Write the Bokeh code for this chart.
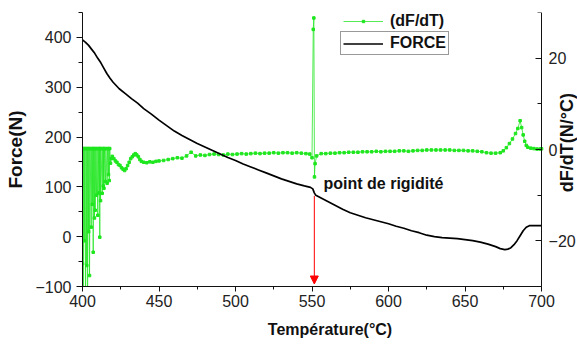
import math
from bokeh.plotting import figure
from bokeh.models import (Range1d, LinearAxis, SingleIntervalTicker, Legend, LegendItem,
                          Label, Arrow, NormalHead)
from bokeh.embed import file_html
from bokeh.resources import INLINE

# ---------------- data ----------------
temp_force = [400, 402, 404, 406, 408, 410, 412, 414, 416, 418, 420, 424, 428, 432, 436, 440,
              445, 450, 455, 460, 465, 470, 475, 480, 485, 490, 495, 500, 505, 510, 515, 520,
              525, 530, 535, 540, 545, 549, 550.5, 551.5, 552.5, 555, 560, 565, 570, 575, 580,
              585, 590, 595, 600, 605, 610, 615, 620, 625, 630, 635, 640, 645, 650, 655, 660,
              665, 670, 673, 676, 678, 680, 682, 684, 686, 688, 690, 692, 695, 700]
force = [395, 390, 384, 376, 368, 358, 349, 338, 327, 318, 310, 297, 287, 277, 268, 257,
         246, 234, 223, 212, 203, 195, 187, 180, 173, 166, 159, 153, 146, 140, 134, 128,
         122, 116, 111, 106, 102, 99, 96, 88, 83, 79, 71, 63, 55, 48, 43,
         38, 34, 30, 26, 21, 17, 12, 8, 3, 0, -2, -3, -4, -6, -8, -11,
         -15, -20, -24, -26, -25, -22, -16, -8, 2, 12, 19, 22, 22, 22]

temp_deriv = [400.0, 400.2, 400.5, 400.8, 401.2, 401.5, 402.0, 402.3, 402.8, 403.0,
              403.3, 403.6, 404.0, 404.3, 404.6, 405.0, 405.7, 406.0, 406.4, 406.7,
              407.0, 407.3, 407.8, 408.0, 408.3, 408.7, 409.2, 409.5, 410.0, 410.3,
              410.8, 411.0, 411.3, 411.5, 411.8, 412.1, 412.9, 413.2, 413.6, 413.8,
              414.0, 414.4, 415.0, 415.3, 416.1, 416.4, 417.0, 417.2, 417.5, 417.8,
              418.3,
              418.8, 419.5, 420.5, 421.5, 422.5, 423.5, 424.5, 425.5, 426.5, 427.5,
              428.5, 429.5, 430.5, 431.5, 432.5, 433.5, 434.5, 435.5, 436.5, 437.5,
              438.5, 440.0, 442.0, 444.0, 446.0, 448.0, 450.0,
              453, 456, 459, 462, 465, 468, 471, 474, 477, 480,
              483, 486, 489, 492, 495, 498, 501, 504, 507, 510,
              513, 516, 519, 522, 525, 528, 531, 534, 537, 540,
              543, 546,
              548.5, 550.0, 550.8, 551.2, 551.6, 552.0, 553.0,
              556, 559, 562, 565, 568, 571, 574, 577, 580, 583,
              586, 589, 592, 595, 598, 601, 604, 607, 610, 613,
              616, 619, 622, 625, 628, 631, 634, 637, 640, 643,
              646, 649, 652, 655, 658, 661, 664, 667, 670, 673,
              675, 677, 679, 681, 683, 684.5, 686, 687, 688, 689,
              690, 691, 693, 695, 697, 699, 700]
deriv = [-25.0, 0.2, -45.0, 0.2, -20.0, 0.2, -35.0, 0.2, -25.4, 0.2,
         -45.0, 0.2, -18.0, 0.2, -27.6, 0.2, -17.0, 0.2, -12.0, 0.2,
         -22.5, 0.2, -15.0, 0.2, -13.3, 0.2, -10.0, 0.2, -14.4, 0.2,
         -9.5, 0.2, -19.2, 0.2, -11.2, 0.2, -9.6, 0.2, -8.0, 0.2,
         -8.5, 0.2, -7.0, 0.2, -7.4, 0.2, -5.5, 0.2, -6.8, 0.2,
         -3.0,
         -2.0, -1.5, -2.0, -2.5, -2.8, -3.3, -3.5, -4.0, -4.3, -4.6,
         -4.2, -3.5, -2.8, -2.0, -1.6, -1.2, -0.9, -1.2, -1.6, -2.2,
         -2.6, -2.8, -2.9, -2.7, -2.8, -2.6, -2.5,
         -2.4, -2.2, -2.0, -1.8, -1.9, -1.4, -0.6, -1.4, -1.2, -1.3,
         -1.1, -1.0, -1.1, -1.2, -1.0, -1.1, -1.0, -0.9, -1.0, -0.9,
         -0.8, -0.9, -0.8, -0.8, -0.7, -0.8, -0.7, -0.7, -0.8, -0.7,
         -0.8, -0.9,
         -1.0, -1.8, 26.3, 28.8, -6.0, -3.1, -1.4,
         -0.9, -0.9, -0.8, -0.8, -0.7, -0.7, -0.6, -0.6, -0.6, -0.5,
         -0.5, -0.5, -0.4, -0.5, -0.4, -0.4, -0.4, -0.3, -0.3, -0.4,
         -0.3, -0.2, -0.2, -0.1, -0.1, -0.1, -0.1, -0.1, -0.1, -0.2,
         -0.2, -0.2, -0.3, -0.3, -0.4, -0.5, -0.7, -0.8, -0.8, -0.7,
         -0.3, 0.4, 1.3, 2.3, 3.5, 4.6, 6.3, 4.8, 3.2, 1.8,
         0.9, 0.5, 0.3, 0.2, 0.1, 0.1, 0.15]

x_start, x_end = 400, 700
rigidity_temp = 551.5
rigidity_force = 82
label_text = "point de rigidité"

GREEN = "#1ee61e"
FONT = "Liberation Sans"

# ---------------- figure ----------------
# The frame extends past 700 so that the right-hand axis title can be drawn
# as a label; the bottom axis line is limited to 400..700 with bounds.
p = figure(width=577, height=349, output_backend="svg", toolbar_location=None,
           x_range=Range1d(400, 723.5), y_range=Range1d(-100, 450),
           min_border_left=82, min_border_right=0, min_border_top=12, min_border_bottom=63,
           background_fill_color="white", border_fill_color="white")
p.outline_line_color = None
p.xgrid.visible = False
p.ygrid.visible = False
p.extra_y_ranges = {"d": Range1d(-30, 30)}

def style_axis(ax):
    ax.axis_line_color = "#111111"
    ax.axis_line_width = 1
    ax.major_tick_line_color = "#111111"
    ax.minor_tick_line_color = "#111111"
    ax.major_label_text_font = FONT
    ax.major_label_text_font_size = "16px"
    ax.major_label_text_color = "#222222"
    ax.axis_label_text_font = FONT
    ax.axis_label_text_font_style = "bold"
    ax.axis_label_text_color = "#111111"

xa = p.xaxis[0]
xa.ticker = SingleIntervalTicker(interval=50, num_minor_ticks=2)
xa.bounds = (x_start, x_end)
style_axis(xa)
xa.major_tick_out = 5
xa.major_tick_in = 0
xa.minor_tick_out = 3
xa.minor_tick_in = 0
xa.major_label_standoff = 3
xa.axis_label = "Température(°C)"
xa.axis_label_text_font_size = "16px"
xa.axis_label_standoff = 11

ya = p.yaxis[0]
ya.ticker = SingleIntervalTicker(interval=100, num_minor_ticks=2)
style_axis(ya)
ya.major_tick_out = 6
ya.major_tick_in = 0
ya.minor_tick_out = 4
ya.minor_tick_in = 0
ya.major_label_standoff = 5
ya.axis_label = "Force(N)"
ya.axis_label_text_font_size = "19px"
ya.axis_label_standoff = 6

ra = LinearAxis(y_range_name="d", ticker=SingleIntervalTicker(interval=20, num_minor_ticks=2),
                fixed_location=x_end)
style_axis(ra)
ra.major_tick_out = 0
ra.major_tick_in = 6
ra.minor_tick_out = 0
ra.minor_tick_in = 4
ra.major_label_standoff = 7
p.add_layout(ra, "right")

# ---------------- series ----------------
g_line = p.line(temp_deriv, deriv, y_range_name="d", line_color=GREEN, line_width=1,
                line_alpha=0.75)
g_pts = p.scatter(temp_deriv, deriv, y_range_name="d", marker="square", size=2.5,
                  fill_color=GREEN, line_color=GREEN)
f_line = p.line(temp_force, force, line_color="black", line_width=1.7)

# arrow + annotation
p.add_layout(Arrow(end=NormalHead(size=8, fill_color="red", line_color="red", line_width=1),
                   x_start=rigidity_temp, y_start=rigidity_force, x_end=rigidity_temp, y_end=-95,
                   line_color="red", line_width=1))
p.add_layout(Label(x=557.5, y=107, text=label_text, text_font=FONT, text_font_style="bold",
                   text_font_size="16px", text_baseline="middle", text_align="left",
                   text_color="#111111"))

# right axis title
p.add_layout(Label(x=716.6, y=1.5, y_range_name="d", text="dF/dT(N/°C)", angle=math.pi / 2,
                   text_font=FONT, text_font_style="bold", text_font_size="18px",
                   text_align="center", text_baseline="middle", text_color="#111111"))

# legends
common = dict(label_text_font=FONT, label_text_font_style="bold", label_text_font_size="16px",
              label_text_color="#111111", glyph_width=40, label_height=15,
              label_standoff=7, padding=2, spacing=0, background_fill_color="white")
leg1 = Legend(items=[LegendItem(label="(dF/dT)", renderers=[g_line, g_pts])],
              location=(261, 256), border_line_color=None, background_fill_alpha=0,
              glyph_height=6, **common)
leg2 = Legend(items=[LegendItem(label="FORCE", renderers=[f_line])],
              location=(258, 231), border_line_color="#333333", border_line_width=1,
              glyph_height=15, **common)
p.add_layout(leg1, "center")
p.add_layout(leg2, "center")

open("out.html", "w").write(file_html(p, INLINE))
